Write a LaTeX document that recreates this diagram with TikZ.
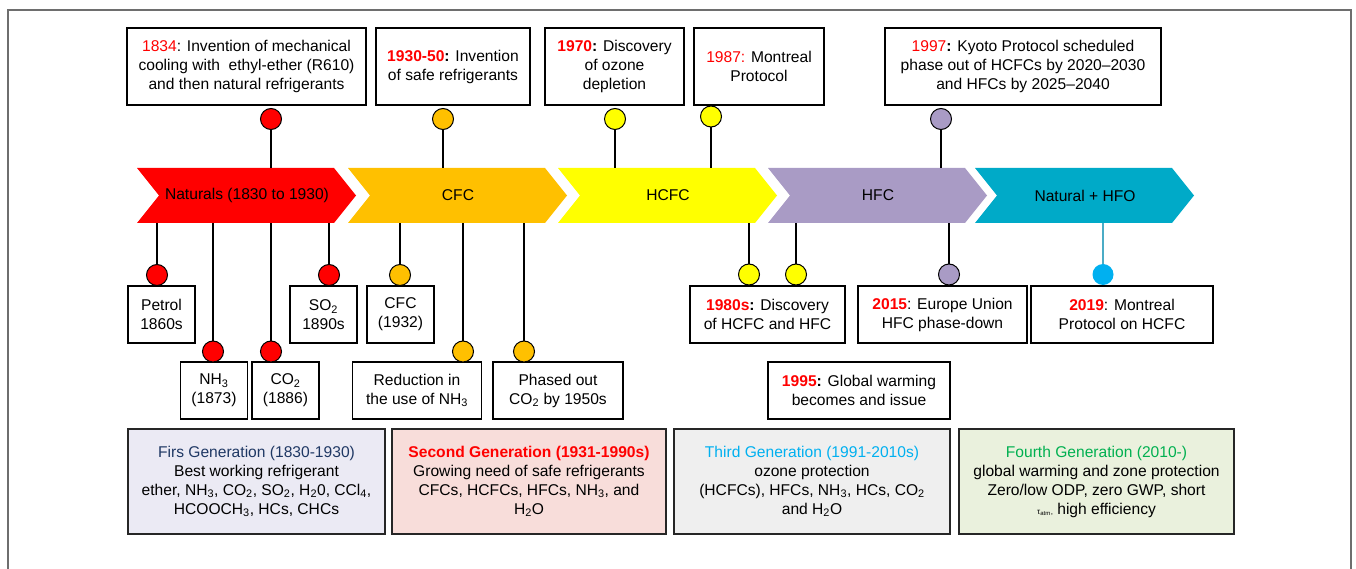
\documentclass[tikz,border=0pt]{standalone}
\usepackage{fontspec}
\setmainfont{Liberation Sans}
\definecolor{cred}{HTML}{FF0000}
\definecolor{corange}{HTML}{FFC000}
\definecolor{cyellow}{HTML}{FFFF00}
\definecolor{cpurple}{HTML}{A99BC5}
\definecolor{cteal}{HTML}{00AAC8}
\definecolor{cblue}{HTML}{00B0F0}
\definecolor{cline}{HTML}{4BACC6}
\definecolor{cframe}{HTML}{6E6E6E}
\definecolor{gone}{HTML}{EBEAF4}
\definecolor{gtwo}{HTML}{F8DDDA}
\definecolor{gthree}{HTML}{EFEFEF}
\definecolor{gfour}{HTML}{EAF1DD}
\definecolor{tnavy}{HTML}{1F3864}
\definecolor{tgreen}{HTML}{00B050}
\newcommand\chevshape[2]{\fill[#2] (#1,168) -- ++(197,0) -- ++(22,27.5) -- ++(-22,27.5) -- ++(-197,0) -- ++(22,-27.5) -- cycle;}
\newcommand\yr[1]{\textcolor{cred}{#1}}
\begin{document}
\begin{tikzpicture}[x=1pt,y=-1pt,
  font=\fontsize{15.6}{19}\selectfont,
  tbox/.style={draw=black,line width=1.2pt,fill=white,align=center,inner sep=0pt,minimum height=77pt},
  ebox/.style={draw=black,line width=1.2pt,fill=white,align=center,inner sep=0pt,minimum height=57pt},
  gbox/.style={draw=black!85,line width=1.4pt,align=center,inner sep=0pt,minimum height=105pt},
  dot/.style={circle,draw=black,line width=1pt,minimum size=21pt,inner sep=0pt},
  chlab/.style={minimum width=190pt,minimum height=55pt,inner sep=0pt},
  link/.style={draw=black,line width=1.2pt}]
\useasboundingbox (0,0) rectangle (1356,569);
\draw[cframe,line width=1.3pt] (8,569) -- (8,10) -- (1351,10) -- (1351,569);

% chevrons
\chevshape{137}{cred}
\chevshape{348}{corange}
\chevshape{558}{cyellow}
\chevshape{768}{cpurple}
\chevshape{975}{cteal}
\node[chlab] (ch1) at (247,195.5) {Naturals (1830 to 1930)};
\node[chlab] (ch2) at (458,195.5) {CFC};
\node[chlab] (ch3) at (668,195.5) {HCFC};
\node[chlab] (ch4) at (878,195.5) {HFC};
\node[chlab] (ch5) at (1085,195.5) {Natural + HFO};

% top boxes
\node[tbox,minimum width=239pt] (t1834) at (246.5,66.5) {\yr{1834}: Invention of mechanical\\cooling with\ \ ethyl-ether (R610)\\and then natural refrigerants};
\node[tbox,minimum width=154pt] (t1930) at (453,66.5) {\textbf{\yr{1930-50}:} Invention\\of safe refrigerants};
\node[tbox,minimum width=139pt] (t1970) at (614.5,66.5) {\textbf{\yr{1970}:} Discovery\\of ozone\\depletion};
\node[tbox,minimum width=130pt] (t1987) at (759,66.5) {\yr{1987:} Montreal\\Protocol};
\node[tbox,minimum width=276pt] (t1997) at (1023,66.5) {\yr{1997}\textbf{:} Kyoto Protocol scheduled\\phase out of HCFCs by 2020--2030\\and HFCs by 2025--2040};

% top circles
\node[dot,fill=cred] (c1834) at (271,119) {};
\node[dot,fill=corange] (c1930) at (443,119) {};
\node[dot,fill=cyellow] (c1970) at (615,119) {};
\node[dot,fill=cyellow] (c1987) at (711,116.5) {};
\node[dot,fill=cpurple] (c1997) at (941,119) {};
\foreach \c/\h in {c1834/ch1,c1930/ch2,c1970/ch3,c1987/ch3,c1997/ch4}
  \draw[link] (\c.south) -- (\c.south |- \h.north);

% lower row A
\node[ebox,minimum width=67pt] (bPetrol) at (161.5,314.5) {Petrol\\1860s};
\node[ebox,minimum width=67pt] (bSO) at (323.5,314.5) {SO\textsubscript{2}\\1890s};
\node[ebox,minimum width=67pt] (bCFC) at (400.5,314.5) {CFC\\(1932)};
\node[ebox,minimum width=155pt] (b1980) at (767.5,314.5) {\textbf{\yr{1980s}:} Discovery\\of HCFC and HFC};
\node[ebox,minimum width=169pt] (b2015) at (942.5,314.5) {\textbf{\yr{2015}}: Europe Union\\HFC phase-down};
\node[ebox,minimum width=182pt] (b2019) at (1122,314.5) {\textbf{\yr{2019}}: Montreal\\Protocol on HCFC};

% lower row B
\node[ebox,minimum width=67pt] (bNH) at (214,390.5) {NH\textsubscript{3}\\(1873)};
\node[ebox,minimum width=67pt] (bCO) at (285.5,390.5) {CO\textsubscript{2}\\(1886)};
\node[ebox,minimum width=129pt] (bRed) at (417,390.5) {Reduction in\\the use of NH\textsubscript{3}};
\node[ebox,minimum width=130pt] (bPh) at (558,390.5) {Phased out\\CO\textsubscript{2} by 1950s};
\node[ebox,minimum width=182pt] (b1995) at (859,390.5) {\textbf{\yr{1995}:} Global warming\\becomes and issue};

% lower circles
\node[dot,fill=cred] (cPetrol) at (157,275) {};
\node[dot,fill=cred] (cSO) at (329,275) {};
\node[dot,fill=corange] (cCFC) at (400,275) {};
\node[dot,fill=cyellow] (c1980a) at (749,274.5) {};
\node[dot,fill=cyellow] (c1980b) at (796,274.5) {};
\node[dot,fill=cpurple] (c2015) at (949,274.5) {};
\node[circle,fill=cblue,minimum size=21pt,inner sep=0pt] (c2019) at (1103,274.5) {};
\node[dot,fill=cred] (cNH) at (213,351.5) {};
\node[dot,fill=cred] (cCO) at (271,351.5) {};
\node[dot,fill=corange] (cRed) at (463,351.5) {};
\node[dot,fill=corange] (cPh) at (524,351.5) {};
\foreach \c/\h in {cPetrol/ch1,cSO/ch1,cNH/ch1,cCO/ch1,cCFC/ch2,cRed/ch2,cPh/ch2,c1980a/ch3,c1980b/ch4,c2015/ch4}
  \draw[link] (\c.north) -- (\c.north |- \h.south);
\draw[cline,line width=1.2pt] (c2019.north) -- (c2019.north |- ch5.south);

% generation boxes
\node[gbox,fill=gone,minimum width=257pt] (g1) at (256.5,481.5) {\textcolor{tnavy}{Firs Generation (1830-1930)}\\Best working refrigerant\\ether, NH\textsubscript{3}, CO\textsubscript{2}, SO\textsubscript{2}, H\textsubscript{2}0, CCl\textsubscript{4},\\HCOOCH\textsubscript{3}, HCs, CHCs};
\node[gbox,fill=gtwo,minimum width=274pt] (g2) at (529,481.5) {\textbf{\textcolor{cred}{Second Generation (1931-1990s)}}\\Growing need of safe refrigerants\\CFCs, HCFCs, HFCs, NH\textsubscript{3}, and\\H\textsubscript{2}O};
\node[gbox,fill=gthree,minimum width=276pt] (g3) at (812,481.5) {\textcolor{cblue}{Third Generation (1991-2010s)}\\ozone protection\\(HCFCs), HFCs, NH\textsubscript{3}, HCs, CO\textsubscript{2}\\and H\textsubscript{2}O};
\node[gbox,fill=gfour,minimum width=275pt] (g4) at (1096.5,481.5) {\textcolor{tgreen}{Fourth Generation (2010-)}\\global warming and zone protection\\Zero/low ODP, zero GWP, short\\{\footnotesize τ\textsubscript{atm},} high efficiency};
\end{tikzpicture}
\end{document}
